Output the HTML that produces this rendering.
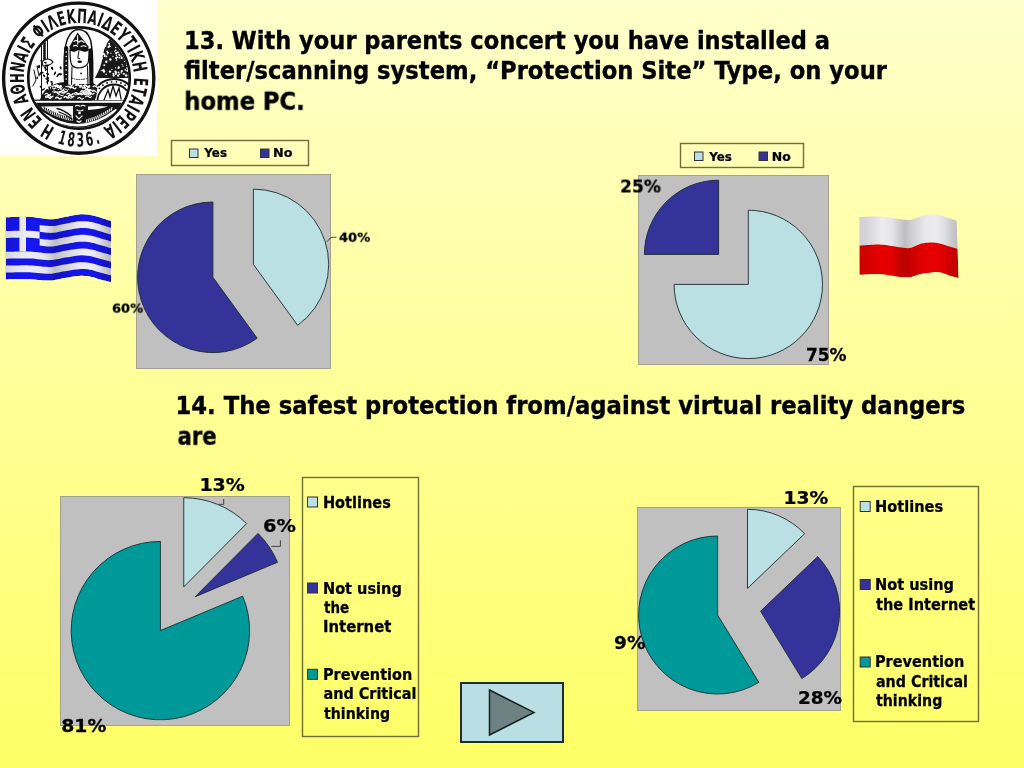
<!DOCTYPE html>
<html><head><meta charset="utf-8"><title>Slide</title>
<style>
html,body{margin:0;padding:0;}
body{width:1024px;height:768px;overflow:hidden;position:relative;background:linear-gradient(to bottom,#FFFFCC 0%,#FFFF66 100%);}
svg{position:absolute;left:0;top:0;will-change:transform;}
.lb{font-family:"DejaVu Sans",sans-serif;font-weight:bold;fill:#000;stroke:#000;stroke-width:0.25px;}
.lc{font-family:"DejaVu Sans Condensed","DejaVu Sans",sans-serif;font-stretch:condensed;font-weight:bold;font-size:16.2px;fill:#000;stroke:#000;stroke-width:0.25px;}
.gk{font-family:"DejaVu Sans Condensed","DejaVu Sans",sans-serif;font-stretch:condensed;font-weight:bold;font-size:19.5px;fill:#111;}
.gk2{font-family:"DejaVu Sans Condensed","DejaVu Sans",sans-serif;font-stretch:condensed;font-weight:bold;font-size:19.2px;fill:#111;}
.tt{font-family:"DejaVu Sans Condensed","DejaVu Sans",sans-serif;font-stretch:condensed;font-weight:bold;font-size:25.25px;fill:#000;stroke:#000;stroke-width:0.35px;}
</style></head><body>
<svg width="1024" height="768" viewBox="0 0 1024 768">
<rect x="0" y="0" width="157" height="156" fill="#fff"/>
<circle cx="78.7" cy="78.2" r="75.1" fill="none" stroke="#111" stroke-width="3.4"/>
<circle cx="79" cy="78" r="50.7" fill="none" stroke="#111" stroke-width="2.7"/>
<text class="gk" transform="translate(50.78,125.66) rotate(210.5) scale(0.675,1)" text-anchor="middle">Η</text>
<text class="gk" transform="translate(39.79,117.15) rotate(225.0) scale(0.675,1)" text-anchor="middle">Ε</text>
<text class="gk" transform="translate(33.87,110.16) rotate(234.5) scale(0.675,1)" text-anchor="middle">Ν</text>
<text class="gk" transform="translate(27.11,97.47) rotate(249.5) scale(0.675,1)" text-anchor="middle">Α</text>
<text class="gk" transform="translate(24.52,88.11) rotate(259.5) scale(0.675,1)" text-anchor="middle">Θ</text>
<text class="gk" transform="translate(23.60,78.12) rotate(270.0) scale(0.675,1)" text-anchor="middle">Η</text>
<text class="gk" transform="translate(24.50,68.19) rotate(280.3) scale(0.675,1)" text-anchor="middle">Ν</text>
<text class="gk" transform="translate(27.05,58.90) rotate(290.4) scale(0.675,1)" text-anchor="middle">Α</text>
<text class="gk" transform="translate(29.97,52.35) rotate(297.8) scale(0.675,1)" text-anchor="middle">Ι</text>
<text class="gk" transform="translate(33.44,46.64) rotate(304.7) scale(0.675,1)" text-anchor="middle">Σ</text>
<text class="gk" transform="translate(42.80,36.26) rotate(319.3) scale(0.675,1)" text-anchor="middle">Φ</text>
<text class="gk" transform="translate(48.86,31.72) rotate(327.2) scale(0.675,1)" text-anchor="middle">Ι</text>
<text class="gk" transform="translate(55.13,28.23) rotate(334.6) scale(0.675,1)" text-anchor="middle">Λ</text>
<text class="gk" transform="translate(63.37,25.10) rotate(343.8) scale(0.675,1)" text-anchor="middle">Ε</text>
<text class="gk" transform="translate(72.02,23.32) rotate(352.9) scale(0.675,1)" text-anchor="middle">Κ</text>
<text class="gk" transform="translate(81.65,22.97) rotate(3.0) scale(0.675,1)" text-anchor="middle">Π</text>
<text class="gk" transform="translate(91.19,24.31) rotate(13.0) scale(0.675,1)" text-anchor="middle">Α</text>
<text class="gk" transform="translate(98.06,26.37) rotate(20.4) scale(0.675,1)" text-anchor="middle">Ι</text>
<text class="gk" transform="translate(104.60,29.30) rotate(27.9) scale(0.675,1)" text-anchor="middle">Δ</text>
<text class="gk" transform="translate(112.04,34.03) rotate(37.0) scale(0.675,1)" text-anchor="middle">Ε</text>
<text class="gk" transform="translate(118.45,39.70) rotate(45.9) scale(0.675,1)" text-anchor="middle">Υ</text>
<text class="gk" transform="translate(123.91,46.28) rotate(54.8) scale(0.675,1)" text-anchor="middle">Τ</text>
<text class="gk" transform="translate(127.42,51.97) rotate(61.7) scale(0.675,1)" text-anchor="middle">Ι</text>
<text class="gk" transform="translate(130.40,58.49) rotate(69.2) scale(0.675,1)" text-anchor="middle">Κ</text>
<text class="gk" transform="translate(133.03,67.77) rotate(79.2) scale(0.675,1)" text-anchor="middle">Η</text>
<text class="gk" transform="translate(133.89,81.65) rotate(93.7) scale(0.675,1)" text-anchor="middle">Ε</text>
<text class="gk" transform="translate(132.72,89.91) rotate(102.3) scale(0.675,1)" text-anchor="middle">Τ</text>
<text class="gk" transform="translate(130.16,98.34) rotate(111.5) scale(0.675,1)" text-anchor="middle">Α</text>
<text class="gk" transform="translate(127.10,104.82) rotate(119.0) scale(0.675,1)" text-anchor="middle">Ι</text>
<text class="gk" transform="translate(123.36,110.68) rotate(126.2) scale(0.675,1)" text-anchor="middle">Ρ</text>
<text class="gk" transform="translate(117.76,117.21) rotate(135.1) scale(0.675,1)" text-anchor="middle">Ε</text>
<text class="gk" transform="translate(112.74,121.63) rotate(142.1) scale(0.675,1)" text-anchor="middle">Ι</text>
<text class="gk" transform="translate(106.82,125.66) rotate(149.5) scale(0.675,1)" text-anchor="middle">Α</text>
<text class="gk2" transform="translate(60.62,144.25) rotate(15.4) scale(0.62,1)" text-anchor="middle">1</text>
<text class="gk2" transform="translate(70.46,146.19) rotate(7.0) scale(0.62,1)" text-anchor="middle">8</text>
<text class="gk2" transform="translate(80.49,146.68) rotate(-1.4) scale(0.62,1)" text-anchor="middle">3</text>
<text class="gk2" transform="translate(90.48,145.70) rotate(-9.8) scale(0.62,1)" text-anchor="middle">6</text>
<text class="gk2" transform="translate(98.61,143.78) rotate(-16.8) scale(0.62,1)" text-anchor="middle">.</text>
<clipPath id="lgC"><circle cx="79" cy="78" r="49.5"/></clipPath>
<g clip-path="url(#lgC)" stroke="#111" fill="none" stroke-linecap="round">
<rect x="25" y="103.5" width="110" height="30" fill="#151515" stroke="none"/>
<path d="M43.8,113.8 Q80,138.4 115.8,110.3" stroke="#fff" stroke-width="2.4"/>
<path d="M41,106.5 L73,106 L73,121 Q58,119 44,110Z" fill="#f4f4f4" stroke="none"/>
<path d="M44.0,106.9 L44.9,110.1" stroke="#111" stroke-width="1.0"/>
<path d="M46.2,108.2 L47.1,111.4" stroke="#111" stroke-width="1.0"/>
<path d="M48.5,109.4 L49.4,112.6" stroke="#111" stroke-width="1.0"/>
<path d="M50.8,110.6 L51.6,113.8" stroke="#111" stroke-width="1.0"/>
<path d="M53.0,111.7 L53.9,114.9" stroke="#111" stroke-width="1.0"/>
<path d="M55.2,112.7 L56.1,115.9" stroke="#111" stroke-width="1.0"/>
<path d="M57.5,113.6 L58.4,116.8" stroke="#111" stroke-width="1.0"/>
<path d="M59.8,114.5 L60.6,117.7" stroke="#111" stroke-width="1.0"/>
<path d="M62.0,115.2 L62.9,118.4" stroke="#111" stroke-width="1.0"/>
<path d="M64.2,115.8 L65.2,119.0" stroke="#111" stroke-width="1.0"/>
<path d="M66.5,116.4 L67.4,119.6" stroke="#111" stroke-width="1.0"/>
<path d="M68.8,116.9 L69.7,120.1" stroke="#111" stroke-width="1.0"/>
<path d="M71.0,117.4 L71.9,120.6" stroke="#111" stroke-width="1.0"/>
<path d="M57,108.5 Q64,110 71,116 M59,112 Q66,114 72,119" stroke="#111" stroke-width="1.3"/>
<path d="M87.0,119.4 L86.1,122.6" stroke="#fff" stroke-width="1.0"/>
<path d="M89.1,118.8 L88.2,122.0" stroke="#fff" stroke-width="1.0"/>
<path d="M91.2,118.1 L90.3,121.3" stroke="#fff" stroke-width="1.0"/>
<path d="M93.2,117.5 L92.3,120.7" stroke="#fff" stroke-width="1.0"/>
<path d="M95.3,116.7 L94.4,119.9" stroke="#fff" stroke-width="1.0"/>
<path d="M97.4,115.8 L96.5,119.0" stroke="#fff" stroke-width="1.0"/>
<path d="M99.5,114.9 L98.6,118.1" stroke="#fff" stroke-width="1.0"/>
<path d="M101.6,113.8 L100.7,117.0" stroke="#fff" stroke-width="1.0"/>
<path d="M103.7,112.7 L102.8,115.9" stroke="#fff" stroke-width="1.0"/>
<path d="M105.8,111.5 L104.8,114.7" stroke="#fff" stroke-width="1.0"/>
<path d="M107.8,110.2 L106.9,113.4" stroke="#fff" stroke-width="1.0"/>
<path d="M109.9,108.8 L109.0,112.0" stroke="#fff" stroke-width="1.0"/>
<path d="M112.0,107.4 L111.1,110.6" stroke="#fff" stroke-width="1.0"/>
<path d="M88,106.5 Q98,105.5 108,106.5 Q100,109 88,110Z" fill="#fff" stroke="none"/>
<path d="M75.5,106 q2,-1.5 4,0 M81,106 q2,-1.5 4,0 M77,110 q3,2 6,0 M76,116 l3,3 l3,-3 M77,121 q2,2 4,0" stroke="#fff" stroke-width="1.2"/>
<circle cx="79.5" cy="113" r="1.3" fill="#fff" stroke="none"/>
<rect x="25" y="100.2" width="110" height="3.2" fill="#fff" stroke="#111" stroke-width="1.2"/>
<path d="M114,35 C107,41 104,48 103,55 C102,62 100,68 98,72 C97,74 96,76 95,78 L132,78 L132,35Z" fill="#1a1a1a" stroke="none"/>
<circle cx="109.1" cy="43.7" r="1.0" fill="#fff" stroke="none"/>
<circle cx="102.0" cy="58.4" r="0.8" fill="#fff" stroke="none"/>
<circle cx="101.6" cy="57.3" r="0.5" fill="#fff" stroke="none"/>
<circle cx="112.1" cy="40.7" r="0.6" fill="#fff" stroke="none"/>
<circle cx="111.9" cy="69.4" r="0.6" fill="#fff" stroke="none"/>
<circle cx="106.3" cy="61.8" r="1.2" fill="#fff" stroke="none"/>
<circle cx="116.2" cy="53.1" r="1.2" fill="#fff" stroke="none"/>
<circle cx="101.3" cy="70.6" r="0.7" fill="#fff" stroke="none"/>
<circle cx="104.0" cy="42.5" r="0.7" fill="#fff" stroke="none"/>
<circle cx="122.9" cy="44.9" r="0.9" fill="#fff" stroke="none"/>
<circle cx="117.9" cy="52.2" r="0.9" fill="#fff" stroke="none"/>
<circle cx="101.8" cy="40.3" r="0.6" fill="#fff" stroke="none"/>
<circle cx="119.1" cy="54.2" r="0.7" fill="#fff" stroke="none"/>
<circle cx="116.4" cy="55.2" r="0.7" fill="#fff" stroke="none"/>
<circle cx="122.2" cy="64.6" r="0.7" fill="#fff" stroke="none"/>
<circle cx="116.1" cy="58.0" r="1.1" fill="#fff" stroke="none"/>
<circle cx="120.4" cy="48.9" r="1.2" fill="#fff" stroke="none"/>
<circle cx="103.3" cy="53.9" r="1.0" fill="#fff" stroke="none"/>
<circle cx="104.3" cy="56.6" r="0.5" fill="#fff" stroke="none"/>
<circle cx="118.7" cy="67.1" r="0.9" fill="#fff" stroke="none"/>
<circle cx="124.5" cy="49.9" r="1.0" fill="#fff" stroke="none"/>
<circle cx="116.6" cy="60.0" r="0.8" fill="#fff" stroke="none"/>
<circle cx="123.5" cy="73.9" r="0.8" fill="#fff" stroke="none"/>
<circle cx="118.6" cy="40.3" r="1.0" fill="#fff" stroke="none"/>
<circle cx="118.1" cy="75.7" r="1.1" fill="#fff" stroke="none"/>
<circle cx="108.0" cy="52.7" r="1.0" fill="#fff" stroke="none"/>
<circle cx="100.6" cy="55.5" r="0.6" fill="#fff" stroke="none"/>
<circle cx="103.3" cy="40.2" r="1.0" fill="#fff" stroke="none"/>
<circle cx="103.6" cy="47.4" r="0.8" fill="#fff" stroke="none"/>
<circle cx="124.4" cy="41.1" r="0.8" fill="#fff" stroke="none"/>
<circle cx="115.4" cy="71.6" r="1.1" fill="#fff" stroke="none"/>
<circle cx="124.2" cy="48.6" r="0.8" fill="#fff" stroke="none"/>
<circle cx="110.0" cy="71.6" r="1.2" fill="#fff" stroke="none"/>
<circle cx="104.2" cy="44.7" r="0.7" fill="#fff" stroke="none"/>
<circle cx="106.5" cy="56.4" r="0.9" fill="#fff" stroke="none"/>
<circle cx="107.4" cy="38.2" r="0.8" fill="#fff" stroke="none"/>
<circle cx="110.3" cy="59.5" r="1.2" fill="#fff" stroke="none"/>
<circle cx="119.3" cy="57.6" r="0.9" fill="#fff" stroke="none"/>
<circle cx="118.9" cy="40.1" r="1.1" fill="#fff" stroke="none"/>
<circle cx="121.8" cy="71.2" r="1.1" fill="#fff" stroke="none"/>
<circle cx="111.0" cy="53.2" r="0.6" fill="#fff" stroke="none"/>
<circle cx="117.8" cy="40.4" r="0.5" fill="#fff" stroke="none"/>
<circle cx="105.8" cy="44.2" r="0.7" fill="#fff" stroke="none"/>
<circle cx="101.5" cy="38.0" r="0.6" fill="#fff" stroke="none"/>
<circle cx="102.8" cy="51.8" r="0.5" fill="#fff" stroke="none"/>
<circle cx="124.5" cy="61.3" r="0.6" fill="#fff" stroke="none"/>
<circle cx="107.1" cy="51.2" r="0.8" fill="#fff" stroke="none"/>
<circle cx="103.4" cy="70.3" r="1.2" fill="#fff" stroke="none"/>
<circle cx="113.0" cy="56.4" r="0.6" fill="#fff" stroke="none"/>
<circle cx="102.9" cy="51.0" r="0.7" fill="#fff" stroke="none"/>
<circle cx="123.2" cy="44.1" r="0.5" fill="#fff" stroke="none"/>
<circle cx="126.6" cy="58.1" r="0.6" fill="#fff" stroke="none"/>
<circle cx="115.2" cy="39.0" r="0.9" fill="#fff" stroke="none"/>
<circle cx="127.4" cy="70.8" r="1.0" fill="#fff" stroke="none"/>
<circle cx="107.3" cy="51.9" r="0.6" fill="#fff" stroke="none"/>
<circle cx="121.6" cy="58.2" r="1.0" fill="#fff" stroke="none"/>
<circle cx="109.2" cy="46.5" r="1.1" fill="#fff" stroke="none"/>
<circle cx="127.6" cy="70.4" r="1.1" fill="#fff" stroke="none"/>
<circle cx="122.9" cy="66.1" r="0.7" fill="#fff" stroke="none"/>
<circle cx="114.5" cy="51.5" r="0.5" fill="#fff" stroke="none"/>
<circle cx="100.8" cy="48.6" r="0.7" fill="#fff" stroke="none"/>
<circle cx="119.4" cy="74.3" r="0.8" fill="#fff" stroke="none"/>
<circle cx="126.2" cy="75.5" r="1.2" fill="#fff" stroke="none"/>
<circle cx="110.2" cy="46.4" r="0.7" fill="#fff" stroke="none"/>
<circle cx="105.5" cy="45.8" r="0.9" fill="#fff" stroke="none"/>
<circle cx="125.2" cy="69.9" r="0.8" fill="#fff" stroke="none"/>
<circle cx="118.3" cy="68.4" r="0.6" fill="#fff" stroke="none"/>
<circle cx="118.5" cy="72.6" r="1.0" fill="#fff" stroke="none"/>
<circle cx="121.0" cy="56.2" r="0.6" fill="#fff" stroke="none"/>
<circle cx="122.1" cy="50.6" r="1.1" fill="#fff" stroke="none"/>
<circle cx="127.2" cy="53.0" r="0.8" fill="#fff" stroke="none"/>
<circle cx="126.5" cy="65.5" r="0.6" fill="#fff" stroke="none"/>
<circle cx="103.6" cy="43.7" r="1.1" fill="#fff" stroke="none"/>
<circle cx="122.6" cy="43.6" r="1.1" fill="#fff" stroke="none"/>
<circle cx="127.4" cy="63.0" r="0.7" fill="#fff" stroke="none"/>
<circle cx="115.4" cy="43.0" r="0.5" fill="#fff" stroke="none"/>
<circle cx="127.2" cy="62.7" r="0.9" fill="#fff" stroke="none"/>
<circle cx="126.1" cy="54.5" r="1.1" fill="#fff" stroke="none"/>
<circle cx="123.1" cy="46.0" r="0.7" fill="#fff" stroke="none"/>
<circle cx="108.2" cy="47.1" r="0.9" fill="#fff" stroke="none"/>
<circle cx="107.3" cy="53.9" r="0.6" fill="#fff" stroke="none"/>
<circle cx="125.5" cy="51.4" r="0.8" fill="#fff" stroke="none"/>
<circle cx="116.3" cy="72.4" r="0.8" fill="#fff" stroke="none"/>
<circle cx="125.7" cy="57.1" r="0.9" fill="#fff" stroke="none"/>
<circle cx="114.7" cy="38.7" r="0.8" fill="#fff" stroke="none"/>
<circle cx="105.1" cy="38.1" r="1.1" fill="#fff" stroke="none"/>
<circle cx="104.8" cy="56.0" r="1.0" fill="#fff" stroke="none"/>
<circle cx="115.6" cy="50.4" r="0.9" fill="#fff" stroke="none"/>
<circle cx="115.6" cy="67.8" r="0.6" fill="#fff" stroke="none"/>
<circle cx="115.7" cy="47.4" r="0.7" fill="#fff" stroke="none"/>
<circle cx="121.6" cy="57.3" r="0.9" fill="#fff" stroke="none"/>
<circle cx="121.3" cy="72.7" r="0.8" fill="#fff" stroke="none"/>
<circle cx="117.2" cy="57.2" r="0.9" fill="#fff" stroke="none"/>
<circle cx="119.4" cy="55.2" r="0.9" fill="#fff" stroke="none"/>
<circle cx="113.4" cy="73.8" r="1.0" fill="#fff" stroke="none"/>
<circle cx="124.5" cy="73.8" r="0.7" fill="#fff" stroke="none"/>
<circle cx="115.7" cy="73.8" r="1.1" fill="#fff" stroke="none"/>
<circle cx="103.8" cy="42.6" r="0.8" fill="#fff" stroke="none"/>
<circle cx="102.0" cy="47.1" r="0.6" fill="#fff" stroke="none"/>
<circle cx="118.7" cy="67.8" r="1.1" fill="#fff" stroke="none"/>
<circle cx="104.3" cy="65.2" r="1.0" fill="#fff" stroke="none"/>
<circle cx="104.0" cy="71.5" r="1.2" fill="#fff" stroke="none"/>
<circle cx="106.1" cy="74.2" r="0.8" fill="#fff" stroke="none"/>
<circle cx="113.6" cy="75.6" r="1.1" fill="#fff" stroke="none"/>
<circle cx="104.5" cy="54.4" r="0.9" fill="#fff" stroke="none"/>
<circle cx="109.5" cy="45.4" r="0.7" fill="#fff" stroke="none"/>
<circle cx="120.2" cy="38.7" r="0.9" fill="#fff" stroke="none"/>
<circle cx="112.3" cy="38.7" r="0.7" fill="#fff" stroke="none"/>
<circle cx="117.5" cy="57.5" r="0.5" fill="#fff" stroke="none"/>
<circle cx="127.6" cy="68.0" r="1.2" fill="#fff" stroke="none"/>
<clipPath id="lgS"><rect x="80" y="60" width="60" height="40.2"/></clipPath>
<g clip-path="url(#lgS)">
<circle cx="114" cy="101" r="22" fill="#fff" stroke-width="2"/>
<circle cx="114" cy="101" r="19.5" stroke-width="0.01" />
<circle cx="94.7" cy="101.3" r="0.9" fill="#111" stroke="none"/>
<circle cx="95.2" cy="96.7" r="0.9" fill="#111" stroke="none"/>
<circle cx="96.8" cy="92.2" r="0.9" fill="#111" stroke="none"/>
<circle cx="99.4" cy="88.3" r="0.9" fill="#111" stroke="none"/>
<circle cx="102.9" cy="85.2" r="0.9" fill="#111" stroke="none"/>
<circle cx="107.1" cy="83.0" r="0.9" fill="#111" stroke="none"/>
<circle cx="111.6" cy="81.8" r="0.9" fill="#111" stroke="none"/>
<circle cx="116.4" cy="81.8" r="0.9" fill="#111" stroke="none"/>
<circle cx="120.9" cy="83.0" r="0.9" fill="#111" stroke="none"/>
<circle cx="125.1" cy="85.2" r="0.9" fill="#111" stroke="none"/>
<circle cx="128.6" cy="88.3" r="0.9" fill="#111" stroke="none"/>
<circle cx="131.2" cy="92.2" r="0.9" fill="#111" stroke="none"/>
<circle cx="132.8" cy="96.7" r="0.9" fill="#111" stroke="none"/>
<circle cx="133.3" cy="101.3" r="0.9" fill="#111" stroke="none"/>
<circle cx="114" cy="101" r="16.5" stroke-width="1.8"/>
<path d="M104,100 L108,90 L110,97 L113,86 L116,96 L119,88 L121,99" stroke-width="1.3"/>
</g>
<path d="M40,100 C42,92 48,86 58,83 C66,81 72,83 79,83 C86,83 92,81 96,85 C98,90 97,95 95,100Z" fill="#1a1a1a" stroke="none"/>
<path d="M47.4,88.2 q1.4,-1.6 2.8,0 q1.4,1.6 2.8,0" stroke="#fff" stroke-width="0.9"/>
<path d="M82.5,88.3 q1.4,-1.6 2.8,0 q1.4,1.6 2.8,0" stroke="#fff" stroke-width="1.0"/>
<path d="M64.0,97.3 q1.4,-1.6 2.8,0 q1.4,1.6 2.8,0" stroke="#fff" stroke-width="1.3"/>
<path d="M55.4,86.6 q1.4,-1.6 2.8,0 q1.4,1.6 2.8,0" stroke="#fff" stroke-width="1.4"/>
<path d="M71.7,94.3 q1.4,-1.6 2.8,0 q1.4,1.6 2.8,0" stroke="#fff" stroke-width="0.9"/>
<path d="M45.0,94.1 q1.4,-1.6 2.8,0 q1.4,1.6 2.8,0" stroke="#fff" stroke-width="1.1"/>
<path d="M45.8,97.6 q1.4,-1.6 2.8,0 q1.4,1.6 2.8,0" stroke="#fff" stroke-width="1.2"/>
<path d="M83.7,85.7 q1.4,-1.6 2.8,0 q1.4,1.6 2.8,0" stroke="#fff" stroke-width="1.3"/>
<path d="M45.5,96.6 q1.4,-1.6 2.8,0 q1.4,1.6 2.8,0" stroke="#fff" stroke-width="1.1"/>
<path d="M59.6,92.2 q1.4,-1.6 2.8,0 q1.4,1.6 2.8,0" stroke="#fff" stroke-width="1.4"/>
<path d="M55.9,86.3 q1.4,-1.6 2.8,0 q1.4,1.6 2.8,0" stroke="#fff" stroke-width="1.2"/>
<path d="M54.4,86.0 q1.4,-1.6 2.8,0 q1.4,1.6 2.8,0" stroke="#fff" stroke-width="1.0"/>
<path d="M44.6,87.3 q1.4,-1.6 2.8,0 q1.4,1.6 2.8,0" stroke="#fff" stroke-width="1.1"/>
<path d="M57.9,95.1 q1.4,-1.6 2.8,0 q1.4,1.6 2.8,0" stroke="#fff" stroke-width="1.0"/>
<path d="M68.0,87.0 q1.4,-1.6 2.8,0 q1.4,1.6 2.8,0" stroke="#fff" stroke-width="1.1"/>
<path d="M42.9,88.0 q1.4,-1.6 2.8,0 q1.4,1.6 2.8,0" stroke="#fff" stroke-width="0.9"/>
<path d="M80.1,92.2 q1.4,-1.6 2.8,0 q1.4,1.6 2.8,0" stroke="#fff" stroke-width="1.0"/>
<path d="M66.7,97.6 q1.4,-1.6 2.8,0 q1.4,1.6 2.8,0" stroke="#fff" stroke-width="1.0"/>
<path d="M84.6,90.6 q1.4,-1.6 2.8,0 q1.4,1.6 2.8,0" stroke="#fff" stroke-width="1.1"/>
<path d="M85.4,90.0 q1.4,-1.6 2.8,0 q1.4,1.6 2.8,0" stroke="#fff" stroke-width="1.2"/>
<path d="M77.8,98.3 q1.4,-1.6 2.8,0 q1.4,1.6 2.8,0" stroke="#fff" stroke-width="1.1"/>
<path d="M85.3,94.4 q1.4,-1.6 2.8,0 q1.4,1.6 2.8,0" stroke="#fff" stroke-width="1.2"/>
<path d="M63.0,89.4 q1.4,-1.6 2.8,0 q1.4,1.6 2.8,0" stroke="#fff" stroke-width="0.9"/>
<path d="M48.8,85.5 q1.4,-1.6 2.8,0 q1.4,1.6 2.8,0" stroke="#fff" stroke-width="1.3"/>
<path d="M55.3,86.8 q1.4,-1.6 2.8,0 q1.4,1.6 2.8,0" stroke="#fff" stroke-width="0.9"/>
<path d="M85.7,96.7 q1.4,-1.6 2.8,0 q1.4,1.6 2.8,0" stroke="#fff" stroke-width="1.2"/>
<path d="M56.7,87.9 q1.4,-1.6 2.8,0 q1.4,1.6 2.8,0" stroke="#fff" stroke-width="1.0"/>
<path d="M65.9,86.7 q1.4,-1.6 2.8,0 q1.4,1.6 2.8,0" stroke="#fff" stroke-width="1.1"/>
<path d="M55.7,98.0 q1.4,-1.6 2.8,0 q1.4,1.6 2.8,0" stroke="#fff" stroke-width="1.4"/>
<path d="M70.4,87.9 q1.4,-1.6 2.8,0 q1.4,1.6 2.8,0" stroke="#fff" stroke-width="1.4"/>
<path d="M58.1,89.5 q1.4,-1.6 2.8,0 q1.4,1.6 2.8,0" stroke="#fff" stroke-width="0.9"/>
<path d="M61.8,91.1 q1.4,-1.6 2.8,0 q1.4,1.6 2.8,0" stroke="#fff" stroke-width="1.2"/>
<path d="M52.5,91.6 q1.4,-1.6 2.8,0 q1.4,1.6 2.8,0" stroke="#fff" stroke-width="0.9"/>
<path d="M55.7,85.8 q1.4,-1.6 2.8,0 q1.4,1.6 2.8,0" stroke="#fff" stroke-width="1.1"/>
<path d="M44.2,84.8 q1.4,-1.6 2.8,0 q1.4,1.6 2.8,0" stroke="#fff" stroke-width="1.1"/>
<path d="M54.1,92.7 q1.4,-1.6 2.8,0 q1.4,1.6 2.8,0" stroke="#fff" stroke-width="1.2"/>
<path d="M81.0,93.7 q1.4,-1.6 2.8,0 q1.4,1.6 2.8,0" stroke="#fff" stroke-width="1.3"/>
<path d="M87.7,90.0 q1.4,-1.6 2.8,0 q1.4,1.6 2.8,0" stroke="#fff" stroke-width="1.1"/>
<path d="M93.2,86.6 q1.4,-1.6 2.8,0 q1.4,1.6 2.8,0" stroke="#fff" stroke-width="1.3"/>
<path d="M75.4,85.1 q1.4,-1.6 2.8,0 q1.4,1.6 2.8,0" stroke="#fff" stroke-width="1.3"/>
<path d="M88.4,93.3 q1.4,-1.6 2.8,0 q1.4,1.6 2.8,0" stroke="#fff" stroke-width="1.3"/>
<path d="M84.2,86.5 q1.4,-1.6 2.8,0 q1.4,1.6 2.8,0" stroke="#fff" stroke-width="1.2"/>
<path d="M68.2,96.2 q1.4,-1.6 2.8,0 q1.4,1.6 2.8,0" stroke="#fff" stroke-width="1.3"/>
<path d="M85.0,92.7 q1.4,-1.6 2.8,0 q1.4,1.6 2.8,0" stroke="#fff" stroke-width="1.3"/>
<path d="M77.5,94.2 q1.4,-1.6 2.8,0 q1.4,1.6 2.8,0" stroke="#fff" stroke-width="1.0"/>
<path d="M43.6,86.4 q1.4,-1.6 2.8,0 q1.4,1.6 2.8,0" stroke="#fff" stroke-width="1.1"/>
<path d="M47.5,96.2 q1.4,-1.6 2.8,0 q1.4,1.6 2.8,0" stroke="#fff" stroke-width="1.2"/>
<path d="M74.6,93.3 q1.4,-1.6 2.8,0 q1.4,1.6 2.8,0" stroke="#fff" stroke-width="1.2"/>
<path d="M67.4,84.5 q1.4,-1.6 2.8,0 q1.4,1.6 2.8,0" stroke="#fff" stroke-width="1.3"/>
<path d="M80.9,91.5 q1.4,-1.6 2.8,0 q1.4,1.6 2.8,0" stroke="#fff" stroke-width="1.2"/>
<path d="M76.3,85.4 q1.4,-1.6 2.8,0 q1.4,1.6 2.8,0" stroke="#fff" stroke-width="1.3"/>
<path d="M55.1,85.5 q1.4,-1.6 2.8,0 q1.4,1.6 2.8,0" stroke="#fff" stroke-width="1.0"/>
<path d="M79.9,87.4 q1.4,-1.6 2.8,0 q1.4,1.6 2.8,0" stroke="#fff" stroke-width="1.3"/>
<path d="M92.7,91.4 q1.4,-1.6 2.8,0 q1.4,1.6 2.8,0" stroke="#fff" stroke-width="1.1"/>
<path d="M66.9,94.1 q1.4,-1.6 2.8,0 q1.4,1.6 2.8,0" stroke="#fff" stroke-width="1.3"/>
<path d="M74.1,93.5 q1.4,-1.6 2.8,0 q1.4,1.6 2.8,0" stroke="#fff" stroke-width="0.9"/>
<path d="M49.7,88.1 q1.4,-1.6 2.8,0 q1.4,1.6 2.8,0" stroke="#fff" stroke-width="1.3"/>
<path d="M57.8,92.4 q1.4,-1.6 2.8,0 q1.4,1.6 2.8,0" stroke="#fff" stroke-width="0.9"/>
<path d="M45.2,88.3 q1.4,-1.6 2.8,0 q1.4,1.6 2.8,0" stroke="#fff" stroke-width="1.2"/>
<path d="M78.0,94.0 q1.4,-1.6 2.8,0 q1.4,1.6 2.8,0" stroke="#fff" stroke-width="1.0"/>
<path d="M41.5,38 L41.5,100 M47.5,40 L47.5,84" stroke-width="1"/>
<path d="M44.5,40 L44.5,62" stroke-width="2.6" stroke-dasharray="1.5 1"/>
<path d="M42,62 C45,58 50,58 53,62 C51,65 47,66 43,66Z" fill="#fff" stroke-width="1.2"/>
<ellipse cx="47.6" cy="73.8" rx="1.7" ry="0.9" fill="#111" stroke="none" transform="rotate(21 47.6 73.8)"/>
<ellipse cx="45.3" cy="67.1" rx="1.4" ry="0.9" fill="#111" stroke="none" transform="rotate(170 45.3 67.1)"/>
<ellipse cx="37.2" cy="77.8" rx="1.3" ry="0.9" fill="#111" stroke="none" transform="rotate(94 37.2 77.8)"/>
<ellipse cx="57.9" cy="75.3" rx="2.1" ry="0.9" fill="#111" stroke="none" transform="rotate(127 57.9 75.3)"/>
<ellipse cx="45.3" cy="68.3" rx="1.3" ry="0.9" fill="#111" stroke="none" transform="rotate(62 45.3 68.3)"/>
<ellipse cx="40.7" cy="86.6" rx="1.2" ry="0.9" fill="#111" stroke="none" transform="rotate(135 40.7 86.6)"/>
<ellipse cx="60.7" cy="67.9" rx="1.6" ry="0.9" fill="#111" stroke="none" transform="rotate(71 60.7 67.9)"/>
<ellipse cx="42.3" cy="72.6" rx="1.5" ry="0.9" fill="#111" stroke="none" transform="rotate(9 42.3 72.6)"/>
<ellipse cx="38.5" cy="67.0" rx="1.7" ry="0.9" fill="#111" stroke="none" transform="rotate(34 38.5 67.0)"/>
<ellipse cx="51.5" cy="89.1" rx="2.1" ry="0.9" fill="#111" stroke="none" transform="rotate(99 51.5 89.1)"/>
<ellipse cx="54.9" cy="73.3" rx="2.0" ry="0.9" fill="#111" stroke="none" transform="rotate(116 54.9 73.3)"/>
<ellipse cx="46.1" cy="69.7" rx="1.5" ry="0.9" fill="#111" stroke="none" transform="rotate(133 46.1 69.7)"/>
<ellipse cx="52.3" cy="68.2" rx="1.8" ry="0.9" fill="#111" stroke="none" transform="rotate(71 52.3 68.2)"/>
<ellipse cx="46.9" cy="65.5" rx="2.1" ry="0.9" fill="#111" stroke="none" transform="rotate(179 46.9 65.5)"/>
<ellipse cx="45.3" cy="62.7" rx="1.4" ry="0.9" fill="#111" stroke="none" transform="rotate(16 45.3 62.7)"/>
<ellipse cx="41.6" cy="61.1" rx="1.4" ry="0.9" fill="#111" stroke="none" transform="rotate(47 41.6 61.1)"/>
<ellipse cx="49.4" cy="88.2" rx="1.9" ry="0.9" fill="#111" stroke="none" transform="rotate(74 49.4 88.2)"/>
<ellipse cx="44.1" cy="75.8" rx="1.6" ry="0.9" fill="#111" stroke="none" transform="rotate(61 44.1 75.8)"/>
<ellipse cx="47.1" cy="79.4" rx="2.1" ry="0.9" fill="#111" stroke="none" transform="rotate(39 47.1 79.4)"/>
<ellipse cx="39.2" cy="66.4" rx="1.6" ry="0.9" fill="#111" stroke="none" transform="rotate(80 39.2 66.4)"/>
<ellipse cx="60.5" cy="74.1" rx="1.8" ry="0.9" fill="#111" stroke="none" transform="rotate(0 60.5 74.1)"/>
<ellipse cx="43.3" cy="89.5" rx="2.0" ry="0.9" fill="#111" stroke="none" transform="rotate(154 43.3 89.5)"/>
<ellipse cx="47.8" cy="81.2" rx="2.1" ry="0.9" fill="#111" stroke="none" transform="rotate(130 47.8 81.2)"/>
<ellipse cx="52.0" cy="84.0" rx="1.7" ry="0.9" fill="#111" stroke="none" transform="rotate(99 52.0 84.0)"/>
<ellipse cx="51.9" cy="68.3" rx="1.3" ry="0.9" fill="#111" stroke="none" transform="rotate(45 51.9 68.3)"/>
<ellipse cx="51.6" cy="81.8" rx="1.3" ry="0.9" fill="#111" stroke="none" transform="rotate(13 51.6 81.8)"/>
<ellipse cx="47.8" cy="77.8" rx="1.6" ry="0.9" fill="#111" stroke="none" transform="rotate(40 47.8 77.8)"/>
<ellipse cx="40.3" cy="73.7" rx="2.2" ry="0.9" fill="#111" stroke="none" transform="rotate(116 40.3 73.7)"/>
<ellipse cx="60.0" cy="74.2" rx="1.4" ry="0.9" fill="#111" stroke="none" transform="rotate(44 60.0 74.2)"/>
<path d="M34,70 L36,80 L33,86 M37,66 L39,76" stroke-width="1"/>
<path d="M64.8,84 C63.5,66 64,48 67.5,39 C70.5,32 74.5,29.5 78.5,29.5 C83,29.5 88,32.5 90.5,40 C92.5,48 93,66 92.5,84" fill="#fff" stroke-width="1.5"/>
<path d="M66.2,48 L66.2,84" stroke-width="4.2"/>
<path d="M90.6,50 L91.2,84" stroke-width="3.6"/>
<circle cx="66.2" cy="52.0" r="0.8" fill="#fff" stroke="none"/>
<circle cx="66.2" cy="56.5" r="0.8" fill="#fff" stroke="none"/>
<circle cx="66.2" cy="61.0" r="0.8" fill="#fff" stroke="none"/>
<circle cx="66.2" cy="65.5" r="0.8" fill="#fff" stroke="none"/>
<circle cx="66.2" cy="70.0" r="0.8" fill="#fff" stroke="none"/>
<circle cx="66.2" cy="74.5" r="0.8" fill="#fff" stroke="none"/>
<circle cx="66.2" cy="79.0" r="0.8" fill="#fff" stroke="none"/>
<path d="M77.5,32.5 L69.5,46.5 L70,51.5 L88.5,51.5 L88.5,46.5Z" fill="#151515" stroke="none"/>
<path d="M77.5,35.5 L77.8,44 M74,41.5 q2,-2 4,0 M79,42 q2.5,-2.5 5,0.5 M73.5,46 q3,-1.5 4,0.5 M81,46.5 q3,-1.5 5,0" stroke="#fff" stroke-width="1.1"/>
<path d="M70,50 C70,58 70.5,63 72,65.5 C74,67.5 77,68 79.5,68 C83,67.5 86.5,66 88,63 C89,59 89,54 89,50 Z" fill="#fff" stroke-width="1.2"/>
<path d="M70.5,50.5 q3,-1.5 6.5,0 q-3,1.8 -6.5,0Z M81.5,50.5 q3,-1.5 6.5,0 q-3,1.8 -6.5,0Z" fill="#111" stroke-width="0.8"/>
<path d="M78.9,51.5 L77.8,58.2 L79.8,58.8" stroke-width="1"/>
<ellipse cx="79.7" cy="61.8" rx="2.3" ry="1.3" fill="#111" stroke="none"/>
<path d="M72,67 L71.5,84 M87.5,66 L88,84" stroke-width="1.1"/>
<circle cx="81" cy="73.4" r="0.9" fill="#111" stroke="none"/>
<path d="M71.8,78 C76,80 84,80 88,78" stroke-width="0.9" stroke-dasharray="1 1.4"/>
</g>
<linearGradient id="gshG" gradientUnits="userSpaceOnUse" x1="5.7" y1="0" x2="111" y2="0"><stop offset="0.000" stop-color="#000" stop-opacity="0.1"/><stop offset="0.088" stop-color="#000" stop-opacity="0.05"/><stop offset="0.231" stop-color="#000" stop-opacity="0.0"/><stop offset="0.373" stop-color="#000" stop-opacity="0.04"/><stop offset="0.468" stop-color="#000" stop-opacity="0.2"/><stop offset="0.563" stop-color="#000" stop-opacity="0.12"/><stop offset="0.687" stop-color="#000" stop-opacity="0.03"/><stop offset="0.801" stop-color="#000" stop-opacity="0.0"/><stop offset="0.896" stop-color="#000" stop-opacity="0.08"/><stop offset="0.972" stop-color="#000" stop-opacity="0.2"/><stop offset="1.000" stop-color="#000" stop-opacity="0.22"/></linearGradient>
<clipPath id="gclip"><path d="M5.7,217.2 L7.48,217.17 L9.27,217.13 L11.05,217.08 L12.84,217.03 L14.62,216.97 L16.41,216.92 L18.19,216.87 L19.98,216.82 L21.76,216.79 L23.55,216.78 L25.33,216.78 L27.12,216.81 L28.9,216.86 L30.69,216.94 L32.47,217.07 L34.26,217.26 L36.04,217.48 L37.83,217.74 L39.61,218.01 L41.39,218.28 L43.18,218.54 L44.96,218.78 L46.75,218.99 L48.53,219.15 L50.32,219.26 L52.1,219.3 L53.89,219.21 L55.67,218.99 L57.46,218.66 L59.24,218.27 L61.03,217.85 L62.81,217.44 L64.6,217.07 L66.38,216.75 L68.17,216.4 L69.95,216.04 L71.74,215.68 L73.52,215.33 L75.31,215.01 L77.09,214.73 L78.87,214.51 L80.66,214.35 L82.44,214.29 L84.23,214.31 L86.01,214.42 L87.8,214.6 L89.58,214.84 L91.37,215.14 L93.15,215.54 L94.94,216.01 L96.72,216.52 L98.51,217.05 L100.29,217.59 L102.08,218.14 L103.86,218.71 L105.65,219.3 L107.43,219.91 L109.22,220.51 L111,221.1 L111,282.1 L109.22,281.67 L107.43,281.24 L105.65,280.81 L103.86,280.38 L102.08,279.93 L100.29,279.48 L98.51,278.98 L96.72,278.43 L94.94,277.87 L93.15,277.34 L91.37,276.88 L89.58,276.53 L87.8,276.26 L86.01,276.04 L84.23,275.9 L82.44,275.84 L80.66,275.87 L78.87,275.98 L77.09,276.15 L75.31,276.36 L73.52,276.6 L71.74,276.86 L69.95,277.15 L68.17,277.45 L66.38,277.75 L64.6,278.04 L62.81,278.33 L61.03,278.66 L59.24,279.04 L57.46,279.44 L55.67,279.83 L53.89,280.18 L52.1,280.44 L50.32,280.59 L48.53,280.62 L46.75,280.59 L44.96,280.51 L43.18,280.38 L41.39,280.23 L39.61,280.05 L37.83,279.88 L36.04,279.7 L34.26,279.54 L32.47,279.41 L30.69,279.32 L28.9,279.27 L27.12,279.24 L25.33,279.22 L23.55,279.22 L21.76,279.22 L19.98,279.23 L18.19,279.25 L16.41,279.27 L14.62,279.3 L12.84,279.32 L11.05,279.35 L9.27,279.37 L7.48,279.39 L5.7,279.4Z"/></clipPath>
<g clip-path="url(#gclip)">
<path d="M5.7,217.2 L7.48,217.17 L9.27,217.13 L11.05,217.08 L12.84,217.03 L14.62,216.97 L16.41,216.92 L18.19,216.87 L19.98,216.82 L21.76,216.79 L23.55,216.78 L25.33,216.78 L27.12,216.81 L28.9,216.86 L30.69,216.94 L32.47,217.07 L34.26,217.26 L36.04,217.48 L37.83,217.74 L39.61,218.01 L41.39,218.28 L43.18,218.54 L44.96,218.78 L46.75,218.99 L48.53,219.15 L50.32,219.26 L52.1,219.3 L53.89,219.21 L55.67,218.99 L57.46,218.66 L59.24,218.27 L61.03,217.85 L62.81,217.44 L64.6,217.07 L66.38,216.75 L68.17,216.4 L69.95,216.04 L71.74,215.68 L73.52,215.33 L75.31,215.01 L77.09,214.73 L78.87,214.51 L80.66,214.35 L82.44,214.29 L84.23,214.31 L86.01,214.42 L87.8,214.6 L89.58,214.84 L91.37,215.14 L93.15,215.54 L94.94,216.01 L96.72,216.52 L98.51,217.05 L100.29,217.59 L102.08,218.14 L103.86,218.71 L105.65,219.3 L107.43,219.91 L109.22,220.51 L111,221.1 L111,282.1 L109.22,281.67 L107.43,281.24 L105.65,280.81 L103.86,280.38 L102.08,279.93 L100.29,279.48 L98.51,278.98 L96.72,278.43 L94.94,277.87 L93.15,277.34 L91.37,276.88 L89.58,276.53 L87.8,276.26 L86.01,276.04 L84.23,275.9 L82.44,275.84 L80.66,275.87 L78.87,275.98 L77.09,276.15 L75.31,276.36 L73.52,276.6 L71.74,276.86 L69.95,277.15 L68.17,277.45 L66.38,277.75 L64.6,278.04 L62.81,278.33 L61.03,278.66 L59.24,279.04 L57.46,279.44 L55.67,279.83 L53.89,280.18 L52.1,280.44 L50.32,280.59 L48.53,280.62 L46.75,280.59 L44.96,280.51 L43.18,280.38 L41.39,280.23 L39.61,280.05 L37.83,279.88 L36.04,279.7 L34.26,279.54 L32.47,279.41 L30.69,279.32 L28.9,279.27 L27.12,279.24 L25.33,279.22 L23.55,279.22 L21.76,279.22 L19.98,279.23 L18.19,279.25 L16.41,279.27 L14.62,279.3 L12.84,279.32 L11.05,279.35 L9.27,279.37 L7.48,279.39 L5.7,279.4Z" fill="#1616F0"/>
<path d="M39.6,224.9 L41.46,225.17 L43.31,225.43 L45.17,225.66 L47.03,225.86 L48.88,226.01 L50.74,226.09 L52.59,226.08 L54.45,225.92 L56.31,225.64 L58.16,225.27 L60.02,224.84 L61.88,224.41 L63.73,224.01 L65.59,223.67 L67.45,223.32 L69.3,222.96 L71.16,222.59 L73.02,222.23 L74.87,221.9 L76.73,221.61 L78.58,221.37 L80.44,221.2 L82.3,221.13 L84.15,221.15 L86.01,221.27 L87.87,221.46 L89.72,221.71 L91.58,222.05 L93.44,222.48 L95.29,222.98 L97.15,223.53 L99.01,224.08 L100.86,224.63 L102.72,225.2 L104.57,225.79 L106.43,226.39 L108.29,227 L110.14,227.6 L112,227.9 L112,234.7 L110.14,234.39 L108.29,233.81 L106.43,233.22 L104.57,232.64 L102.72,232.06 L100.86,231.51 L99.01,230.96 L97.15,230.41 L95.29,229.86 L93.44,229.35 L91.58,228.91 L89.72,228.57 L87.87,228.31 L86.01,228.11 L84.15,228 L82.3,227.97 L80.44,228.03 L78.58,228.2 L76.73,228.43 L74.87,228.72 L73.02,229.04 L71.16,229.39 L69.3,229.75 L67.45,230.1 L65.59,230.45 L63.73,230.78 L61.88,231.17 L60.02,231.6 L58.16,232.02 L56.31,232.4 L54.45,232.69 L52.59,232.87 L50.74,232.9 L48.88,232.83 L47.03,232.7 L45.17,232.52 L43.31,232.3 L41.46,232.05 L39.6,231.79Z" fill="#EEEEF4"/>
<path d="M39.6,238.69 L41.46,238.93 L43.31,239.17 L45.17,239.38 L47.03,239.54 L48.88,239.66 L50.74,239.71 L52.59,239.65 L54.45,239.46 L56.31,239.15 L58.16,238.77 L60.02,238.35 L61.88,237.93 L63.73,237.56 L65.59,237.22 L67.45,236.88 L69.3,236.53 L71.16,236.18 L73.02,235.84 L74.87,235.53 L76.73,235.25 L78.58,235.03 L80.44,234.87 L82.3,234.81 L84.15,234.84 L86.01,234.96 L87.87,235.16 L89.72,235.42 L91.58,235.77 L93.44,236.21 L95.29,236.73 L97.15,237.29 L99.01,237.84 L100.86,238.38 L102.72,238.92 L104.57,239.48 L106.43,240.05 L108.29,240.61 L110.14,241.18 L112,241.5 L112,248.3 L110.14,247.96 L108.29,247.42 L106.43,246.87 L104.57,246.33 L102.72,245.79 L100.86,245.25 L99.01,244.73 L97.15,244.17 L95.29,243.61 L93.44,243.08 L91.58,242.63 L89.72,242.28 L87.87,242.01 L86.01,241.81 L84.15,241.68 L82.3,241.64 L80.44,241.7 L78.58,241.86 L76.73,242.08 L74.87,242.34 L73.02,242.65 L71.16,242.98 L69.3,243.32 L67.45,243.67 L65.59,244 L63.73,244.33 L61.88,244.69 L60.02,245.1 L58.16,245.52 L56.31,245.91 L54.45,246.23 L52.59,246.44 L50.74,246.52 L48.88,246.49 L47.03,246.39 L45.17,246.23 L43.31,246.04 L41.46,245.82 L39.6,245.58Z" fill="#EEEEF4"/>
<path d="M4.7,251.76 L7.45,251.74 L10.2,251.69 L12.95,251.63 L15.71,251.57 L18.46,251.52 L21.21,251.48 L23.96,251.47 L26.71,251.49 L29.46,251.55 L32.21,251.69 L34.96,251.93 L37.72,252.25 L40.47,252.58 L43.22,252.9 L45.97,253.16 L48.72,253.31 L51.47,253.3 L54.22,253.03 L56.97,252.53 L59.73,251.92 L62.48,251.33 L65.23,250.84 L67.98,250.35 L70.73,249.85 L73.48,249.38 L76.23,248.96 L78.98,248.65 L81.74,248.49 L84.49,248.54 L87.24,248.78 L89.99,249.18 L92.74,249.77 L95.49,250.54 L98.24,251.38 L100.99,252.16 L103.75,252.94 L106.5,253.72 L109.25,254.5 L112,255.1 L112,261.9 L109.25,261.29 L106.5,260.54 L103.75,259.79 L100.99,259.04 L98.24,258.26 L95.49,257.42 L92.74,256.63 L89.99,256.03 L87.24,255.63 L84.49,255.39 L81.74,255.33 L78.98,255.48 L76.23,255.78 L73.48,256.18 L70.73,256.64 L67.98,257.13 L65.23,257.61 L62.48,258.1 L59.73,258.67 L56.97,259.29 L54.22,259.8 L51.47,260.1 L48.72,260.14 L45.97,260.01 L43.22,259.77 L40.47,259.47 L37.72,259.15 L34.96,258.85 L32.21,258.62 L29.46,258.48 L26.71,258.42 L23.96,258.4 L21.21,258.42 L18.46,258.45 L15.71,258.5 L12.95,258.56 L10.2,258.61 L7.45,258.65 L4.7,258.67Z" fill="#EEEEF4"/>
<path d="M4.7,265.58 L7.45,265.56 L10.2,265.53 L12.95,265.48 L15.71,265.43 L18.46,265.38 L21.21,265.35 L23.96,265.34 L26.71,265.36 L29.46,265.42 L32.21,265.54 L34.96,265.77 L37.72,266.06 L40.47,266.36 L43.22,266.64 L45.97,266.86 L48.72,266.96 L51.47,266.9 L54.22,266.58 L56.97,266.04 L59.73,265.43 L62.48,264.86 L65.23,264.39 L67.98,263.91 L70.73,263.44 L73.48,262.99 L76.23,262.6 L78.98,262.31 L81.74,262.16 L84.49,262.23 L87.24,262.48 L89.99,262.89 L92.74,263.5 L95.49,264.29 L98.24,265.14 L100.99,265.91 L103.75,266.64 L106.5,267.37 L109.25,268.09 L112,268.7 L112,275.5 L109.25,274.88 L106.5,274.19 L103.75,273.5 L100.99,272.78 L98.24,272.02 L95.49,271.17 L92.74,270.36 L89.99,269.74 L87.24,269.33 L84.49,269.07 L81.74,269 L78.98,269.14 L76.23,269.42 L73.48,269.8 L70.73,270.23 L67.98,270.7 L65.23,271.16 L62.48,271.62 L59.73,272.18 L56.97,272.8 L54.22,273.35 L51.47,273.71 L48.72,273.79 L45.97,273.71 L43.22,273.51 L40.47,273.25 L37.72,272.96 L34.96,272.69 L32.21,272.47 L29.46,272.35 L26.71,272.3 L23.96,272.28 L21.21,272.29 L18.46,272.32 L15.71,272.36 L12.95,272.4 L10.2,272.44 L7.45,272.48 L4.7,272.49Z" fill="#EEEEF4"/>
<path d="M4.7,231.02 L7.87,230.99 L11.05,230.92 L14.22,230.83 L17.39,230.75 L20.56,230.68 L23.74,230.65 L26.91,230.68 L30.08,230.77 L33.25,231 L36.43,231.36 L39.6,231.79 L39.6,238.69 L36.43,238.27 L33.25,237.92 L30.08,237.7 L26.91,237.61 L23.74,237.59 L20.56,237.62 L17.39,237.68 L14.22,237.76 L11.05,237.84 L7.87,237.9 L4.7,237.93Z" fill="#EEEEF4"/>
<path d="M19.4,216.84 L20.72,216.81 L22.04,216.79 L23.36,216.78 L24.68,216.78 L26,216.79 L26,251.48 L24.68,251.47 L23.36,251.47 L22.04,251.47 L20.72,251.49 L19.4,251.5Z" fill="#EEEEF4"/>
<rect x="0" y="205" width="120" height="85" fill="url(#gshG)"/>
</g>
<linearGradient id="gshP" gradientUnits="userSpaceOnUse" x1="859.4" y1="0" x2="958.6" y2="0"><stop offset="0.000" stop-color="#000" stop-opacity="0.12"/><stop offset="0.067" stop-color="#000" stop-opacity="0.1"/><stop offset="0.228" stop-color="#000" stop-opacity="0.0"/><stop offset="0.329" stop-color="#000" stop-opacity="0.03"/><stop offset="0.460" stop-color="#000" stop-opacity="0.2"/><stop offset="0.530" stop-color="#000" stop-opacity="0.12"/><stop offset="0.661" stop-color="#000" stop-opacity="0.02"/><stop offset="0.762" stop-color="#000" stop-opacity="0.0"/><stop offset="0.863" stop-color="#000" stop-opacity="0.06"/><stop offset="0.933" stop-color="#000" stop-opacity="0.15"/><stop offset="1.000" stop-color="#000" stop-opacity="0.2"/></linearGradient>
<clipPath id="pclip"><path d="M859.4,217 L861.38,216.92 L863.37,216.81 L865.35,216.7 L867.33,216.57 L869.32,216.46 L871.3,216.35 L873.29,216.27 L875.27,216.23 L877.25,216.22 L879.24,216.27 L881.22,216.37 L883.2,216.54 L885.19,216.77 L887.17,217.03 L889.16,217.33 L891.14,217.65 L893.12,217.97 L895.11,218.29 L897.09,218.6 L899.07,218.88 L901.06,219.15 L903.04,219.48 L905.02,219.81 L907.01,220.05 L908.99,220.08 L910.98,219.83 L912.96,219.25 L914.94,218.47 L916.93,217.62 L918.91,216.84 L920.89,216.25 L922.88,215.7 L924.86,215.2 L926.84,214.79 L928.83,214.5 L930.81,214.37 L932.8,214.4 L934.78,214.55 L936.76,214.81 L938.75,215.15 L940.73,215.56 L942.71,216.09 L944.7,216.71 L946.68,217.39 L948.67,218.07 L950.65,218.7 L952.63,219.33 L954.62,219.97 L956.6,220.6 L958.6,277.9 L956.58,277.42 L954.55,276.96 L952.53,276.48 L950.5,275.94 L948.48,275.31 L946.45,274.55 L944.43,273.76 L942.4,273.07 L940.38,272.56 L938.36,272.32 L936.33,272.26 L934.31,272.33 L932.28,272.49 L930.26,272.68 L928.23,272.88 L926.21,273.15 L924.18,273.47 L922.16,273.84 L920.13,274.27 L918.11,274.81 L916.09,275.49 L914.06,276.19 L912.04,276.79 L910.01,277.2 L907.99,277.37 L905.96,277.37 L903.94,277.27 L901.91,277.09 L899.89,276.89 L897.87,276.66 L895.84,276.39 L893.82,276.09 L891.79,275.77 L889.77,275.45 L887.74,275.14 L885.72,274.85 L883.69,274.61 L881.67,274.41 L879.64,274.28 L877.62,274.22 L875.6,274.2 L873.57,274.22 L871.55,274.28 L869.52,274.36 L867.5,274.46 L865.47,274.56 L863.45,274.65 L861.42,274.74 L859.4,274.8Z"/></clipPath>
<g clip-path="url(#pclip)">
<path d="M859.4,217 L861.38,216.92 L863.37,216.81 L865.35,216.7 L867.33,216.57 L869.32,216.46 L871.3,216.35 L873.29,216.27 L875.27,216.23 L877.25,216.22 L879.24,216.27 L881.22,216.37 L883.2,216.54 L885.19,216.77 L887.17,217.03 L889.16,217.33 L891.14,217.65 L893.12,217.97 L895.11,218.29 L897.09,218.6 L899.07,218.88 L901.06,219.15 L903.04,219.48 L905.02,219.81 L907.01,220.05 L908.99,220.08 L910.98,219.83 L912.96,219.25 L914.94,218.47 L916.93,217.62 L918.91,216.84 L920.89,216.25 L922.88,215.7 L924.86,215.2 L926.84,214.79 L928.83,214.5 L930.81,214.37 L932.8,214.4 L934.78,214.55 L936.76,214.81 L938.75,215.15 L940.73,215.56 L942.71,216.09 L944.7,216.71 L946.68,217.39 L948.67,218.07 L950.65,218.7 L952.63,219.33 L954.62,219.97 L956.6,220.6 L957.6,248.9 L955.6,248.33 L953.59,247.76 L951.59,247.18 L949.58,246.57 L947.58,245.89 L945.58,245.18 L943.57,244.49 L941.57,243.88 L939.56,243.41 L937.56,243.05 L935.56,242.77 L933.55,242.58 L931.55,242.49 L929.54,242.51 L927.54,242.64 L925.53,242.86 L923.53,243.18 L921.53,243.61 L919.52,244.14 L917.52,244.93 L915.51,245.89 L913.51,246.85 L911.51,247.63 L909.5,248.07 L907.5,248.15 L905.49,248 L903.49,247.72 L901.49,247.4 L899.48,247.14 L897.48,246.88 L895.47,246.58 L893.47,246.27 L891.47,245.95 L889.46,245.63 L887.46,245.33 L885.45,245.07 L883.45,244.84 L881.44,244.68 L879.44,244.58 L877.44,244.55 L875.43,244.58 L873.43,244.65 L871.42,244.76 L869.42,244.89 L867.42,245.04 L865.41,245.2 L863.41,245.35 L861.4,245.49 L859.4,245.6Z" fill="#ECECF0"/>
<path d="M859.4,245.6 L861.4,245.49 L863.41,245.35 L865.41,245.2 L867.42,245.04 L869.42,244.89 L871.42,244.76 L873.43,244.65 L875.43,244.58 L877.44,244.55 L879.44,244.58 L881.44,244.68 L883.45,244.84 L885.45,245.07 L887.46,245.33 L889.46,245.63 L891.47,245.95 L893.47,246.27 L895.47,246.58 L897.48,246.88 L899.48,247.14 L901.49,247.4 L903.49,247.72 L905.49,248 L907.5,248.15 L909.5,248.07 L911.51,247.63 L913.51,246.85 L915.51,245.89 L917.52,244.93 L919.52,244.14 L921.53,243.61 L923.53,243.18 L925.53,242.86 L927.54,242.64 L929.54,242.51 L931.55,242.49 L933.55,242.58 L935.56,242.77 L937.56,243.05 L939.56,243.41 L941.57,243.88 L943.57,244.49 L945.58,245.18 L947.58,245.89 L949.58,246.57 L951.59,247.18 L953.59,247.76 L955.6,248.33 L957.6,248.9 L958.6,277.9 L956.58,277.42 L954.55,276.96 L952.53,276.48 L950.5,275.94 L948.48,275.31 L946.45,274.55 L944.43,273.76 L942.4,273.07 L940.38,272.56 L938.36,272.32 L936.33,272.26 L934.31,272.33 L932.28,272.49 L930.26,272.68 L928.23,272.88 L926.21,273.15 L924.18,273.47 L922.16,273.84 L920.13,274.27 L918.11,274.81 L916.09,275.49 L914.06,276.19 L912.04,276.79 L910.01,277.2 L907.99,277.37 L905.96,277.37 L903.94,277.27 L901.91,277.09 L899.89,276.89 L897.87,276.66 L895.84,276.39 L893.82,276.09 L891.79,275.77 L889.77,275.45 L887.74,275.14 L885.72,274.85 L883.69,274.61 L881.67,274.41 L879.64,274.28 L877.62,274.22 L875.6,274.2 L873.57,274.22 L871.55,274.28 L869.52,274.36 L867.5,274.46 L865.47,274.56 L863.45,274.65 L861.42,274.74 L859.4,274.8Z" fill="#E80000"/>
<rect x="850" y="205" width="120" height="85" fill="url(#gshP)"/>
</g>
<rect x="136.5" y="174.5" width="194" height="194" fill="#C0C0C0" stroke="#a3a38c" stroke-width="1"/>
<path d="M253.4,264.4L253.4,189.1A75.3,75.3 0 0 1 297.66,325.32Z" fill="#BAE0E3" stroke="#1c2a2c" stroke-width="0.9"/>
<path d="M212.9,277.3L257.16,338.22A75.3,75.3 0 1 1 212.9,202Z" fill="#333399" stroke="#1c2a2c" stroke-width="0.9"/>
<rect x="638.5" y="175.5" width="190" height="189" fill="#C0C0C0" stroke="#a3a38c" stroke-width="1"/>
<path d="M748.3,284.4L748.3,210.2A74.2,74.2 0 1 1 674.1,284.4Z" fill="#BAE0E3" stroke="#1c2a2c" stroke-width="0.9"/>
<path d="M718.6,254.4L644.4,254.4A74.2,74.2 0 0 1 718.6,180.2Z" fill="#333399" stroke="#1c2a2c" stroke-width="0.9"/>
<rect x="60.5" y="496.5" width="229" height="229" fill="#C0C0C0" stroke="#a3a38c" stroke-width="1"/>
<path d="M183.75,586.9L183.75,497.7A89.2,89.2 0 0 1 246.6,523.61Z" fill="#BAE0E3" stroke="#1c2a2c" stroke-width="0.9"/>
<path d="M195.2,596.7L258.05,533.41A89.2,89.2 0 0 1 277.49,562.28Z" fill="#333399" stroke="#1c2a2c" stroke-width="0.9"/>
<path d="M160.4,630.6L242.69,596.18A89.2,89.2 0 1 1 160.4,541.4Z" fill="#009999" stroke="#1c2a2c" stroke-width="0.9"/>
<rect x="637.5" y="507.5" width="203" height="203" fill="#C0C0C0" stroke="#a3a38c" stroke-width="1"/>
<path d="M747.5,588.3L747.5,509.3A79,79 0 0 1 804.61,533.72Z" fill="#BAE0E3" stroke="#1c2a2c" stroke-width="0.9"/>
<path d="M760.6,611.2L817.71,556.62A79,79 0 0 1 801.88,678.56Z" fill="#333399" stroke="#1c2a2c" stroke-width="0.9"/>
<path d="M717.6,615L758.88,682.36A79,79 0 1 1 717.6,536Z" fill="#009999" stroke="#1c2a2c" stroke-width="0.9"/>
<polyline points="327,241.7 331,237.3 336.4,237.3" fill="none" stroke="#333" stroke-width="0.9"/>
<polyline points="218.7,504.3 223.7,504.3 223.7,499" fill="none" stroke="#333" stroke-width="0.9"/>
<polyline points="271.4,546.4 280.4,546.4 280.4,540.3" fill="none" stroke="#333" stroke-width="0.9"/>
<rect x="171.5" y="140.5" width="137" height="25" fill="none" stroke="#6e6e3a" stroke-width="1.4"/>
<rect x="189.5" y="149.0" width="8.5" height="8.5" fill="#BAE0E3" stroke="#333" stroke-width="1"/>
<rect x="260.5" y="149.0" width="8.5" height="8.5" fill="#333399" stroke="#333" stroke-width="1"/>
<rect x="680.5" y="143.5" width="123" height="24" fill="none" stroke="#6e6e3a" stroke-width="1.4"/>
<rect x="694.5" y="152.0" width="8.5" height="8.5" fill="#BAE0E3" stroke="#333" stroke-width="1"/>
<rect x="759.0" y="152.0" width="8.5" height="8.5" fill="#333399" stroke="#333" stroke-width="1"/>
<rect x="302.5" y="477.5" width="116" height="259" fill="none" stroke="#6e6e3a" stroke-width="1.4"/>
<rect x="307.5" y="497.0" width="10" height="10" fill="#BAE0E3" stroke="#333" stroke-width="1"/>
<rect x="307.5" y="583.0" width="10" height="10" fill="#333399" stroke="#333" stroke-width="1"/>
<rect x="307.5" y="669.3" width="10" height="10" fill="#009999" stroke="#333" stroke-width="1"/>
<rect x="853.5" y="486.5" width="125" height="235" fill="none" stroke="#6e6e3a" stroke-width="1.4"/>
<rect x="860.2" y="501.5" width="10" height="10" fill="#BAE0E3" stroke="#333" stroke-width="1"/>
<rect x="860.2" y="579.5" width="10" height="10" fill="#333399" stroke="#333" stroke-width="1"/>
<rect x="860.2" y="657.0" width="10" height="10" fill="#009999" stroke="#333" stroke-width="1"/>
<rect x="461" y="683" width="102" height="59" fill="#B9DEE3" stroke="#1f2d2d" stroke-width="2"/>
<polygon points="489.5,690 534,712.4 489.5,735" fill="#6E8283" stroke="#14201f" stroke-width="1.5" stroke-linejoin="miter"/>
<text transform="translate(339.00,241.7) scale(0.9961,1)" font-size="13.1" class="lb">40%</text>
<text transform="translate(112.00,312.6) scale(0.9929,1)" font-size="13.1" class="lb">60%</text>
<text transform="translate(620.11,192.5) scale(0.9895,1)" font-size="17.2" class="lb">25%</text>
<text transform="translate(806.00,360.6) scale(0.9986,1)" font-size="17.0" class="lb">75%</text>
<text transform="translate(199.39,490.5) scale(1.0548,1)" font-size="18.0" class="lb">13%</text>
<text transform="translate(262.91,531.5) scale(1.0895,1)" font-size="17.8" class="lb">6%</text>
<text transform="translate(61.25,732) scale(1.0464,1)" font-size="18.0" class="lb">81%</text>
<text transform="translate(783.50,503.9) scale(1.0505,1)" font-size="17.8" class="lb">13%</text>
<text transform="translate(614.10,648.7) scale(1.0404,1)" font-size="17.8" class="lb">9%</text>
<text transform="translate(797.97,704) scale(1.0349,1)" font-size="17.8" class="lb">28%</text>
<text transform="translate(204.32,157.3) scale(0.9230,1)" font-size="12.9" class="lb">Yes</text>
<text transform="translate(273.11,157.3) scale(0.9900,1)" font-size="12.9" class="lb">No</text>
<text transform="translate(709.22,160.6) scale(0.9230,1)" font-size="12.9" class="lb">Yes</text>
<text transform="translate(771.83,160.6) scale(0.9687,1)" font-size="12.9" class="lb">No</text>
<text transform="translate(322.90,507.8) scale(0.9987,1)" font-size="16.2" class="lc">Hotlines</text>
<text transform="translate(323.00,593.5) scale(0.9971,1)" font-size="16.2" class="lc">Not using</text>
<text transform="translate(324.00,612.7) scale(0.9219,1)" font-size="16.2" class="lc">the</text>
<text transform="translate(322.98,632.2) scale(1.0202,1)" font-size="16.2" class="lc">Internet</text>
<text transform="translate(323.01,679.7) scale(0.9939,1)" font-size="16.2" class="lc">Prevention</text>
<text transform="translate(323.40,699.1) scale(0.9898,1)" font-size="16.2" class="lc">and Critical</text>
<text transform="translate(324.00,718.5) scale(0.9700,1)" font-size="16.2" class="lc">thinking</text>
<text transform="translate(875.00,512.4) scale(1.0018,1)" font-size="16.2" class="lc">Hotlines</text>
<text transform="translate(875.00,590) scale(0.9997,1)" font-size="16.2" class="lc">Not using</text>
<text transform="translate(876.00,609.5) scale(0.9986,1)" font-size="16.2" class="lc">the Internet</text>
<text transform="translate(875.01,667.4) scale(0.9939,1)" font-size="16.2" class="lc">Prevention</text>
<text transform="translate(876.00,686.8) scale(0.9790,1)" font-size="16.2" class="lc">and Critical</text>
<text transform="translate(876.00,706) scale(0.9730,1)" font-size="16.2" class="lc">thinking</text>
<text transform="translate(184.01,49.1) scale(0.9933,1)" font-size="25.25" class="tt">13. With your parents concert you have installed a</text>
<text transform="translate(184.30,79.4) scale(0.9981,1)" font-size="25.25" class="tt">filter/scanning system, “Protection Site” Type, on your</text>
<text transform="translate(184.30,109.7) scale(0.9984,1)" font-size="25.25" class="tt">home PC.</text>
<text transform="translate(175.50,414.4) scale(1.0005,1)" font-size="25.25" class="tt">14. The safest protection from/against virtual reality dangers</text>
<text transform="translate(177.50,444.7) scale(0.9330,1)" font-size="25.25" class="tt">are</text>
</svg>
</body></html>
